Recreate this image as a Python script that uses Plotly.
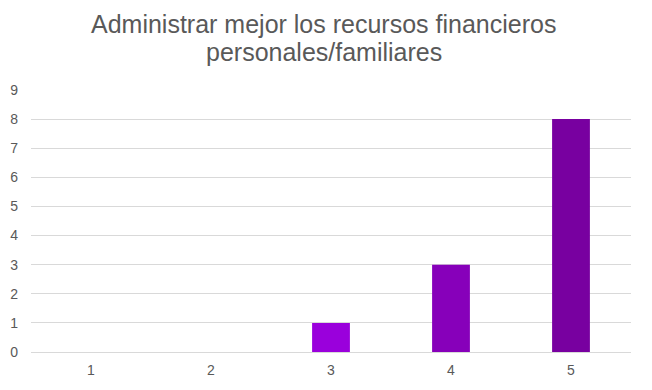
import plotly.graph_objects as go

categories = ["1", "2", "3", "4", "5"]
values = [0, 0, 1, 3, 8]
bar_colors = ["#9A00DC", "#9A00DC", "#9A00DC", "#8700BA", "#7800A0"]
y_ticks = list(range(0, 10))
title_lines = ["Administrar mejor los recursos financieros", "personales/familiares"]

W, H = 644, 382  # page body has an 8px default margin
L, R, T, B = 23, 21, 82, 38
plot_h = H - T - B
plot_w = W - L - R

fig = go.Figure(go.Bar(
    x=categories, y=values,
    marker=dict(color=bar_colors, line=dict(width=0)),
))

title_mid_px = [16, 44]
annotations = [
    dict(
        text=line, showarrow=False,
        xref="paper", x=(315.5 - L) / plot_w, xanchor="center",
        yref="paper", y=1 + (T - ypx) / plot_h, yanchor="middle",
        font=dict(size=25, color="#595959"),
    )
    for line, ypx in zip(title_lines, title_mid_px)
]

fig.update_layout(
    width=W, height=H,
    margin=dict(l=L, r=R, t=T, b=B),
    paper_bgcolor="white", plot_bgcolor="white",
    bargap=0.685,
    showlegend=False,
    font=dict(family="Liberation Sans, Arial, sans-serif", color="#595959"),
    annotations=annotations,
)
fig.update_xaxes(
    type="category", showgrid=False, showline=False, ticks="",
    automargin=False, ticklabelstandoff=8,
    tickfont=dict(size=14, color="#595959"),
)
fig.update_yaxes(
    range=[0, 9], tickvals=y_ticks, showgrid=True, gridcolor="#D9D9D9", gridwidth=1,
    zeroline=True, zerolinecolor="#D9D9D9", zerolinewidth=1,
    showline=False, ticks="", ticklabelstandoff=12, automargin=False,
    tickfont=dict(size=14, color="#595959"),
)

fig.write_html("out.html")
